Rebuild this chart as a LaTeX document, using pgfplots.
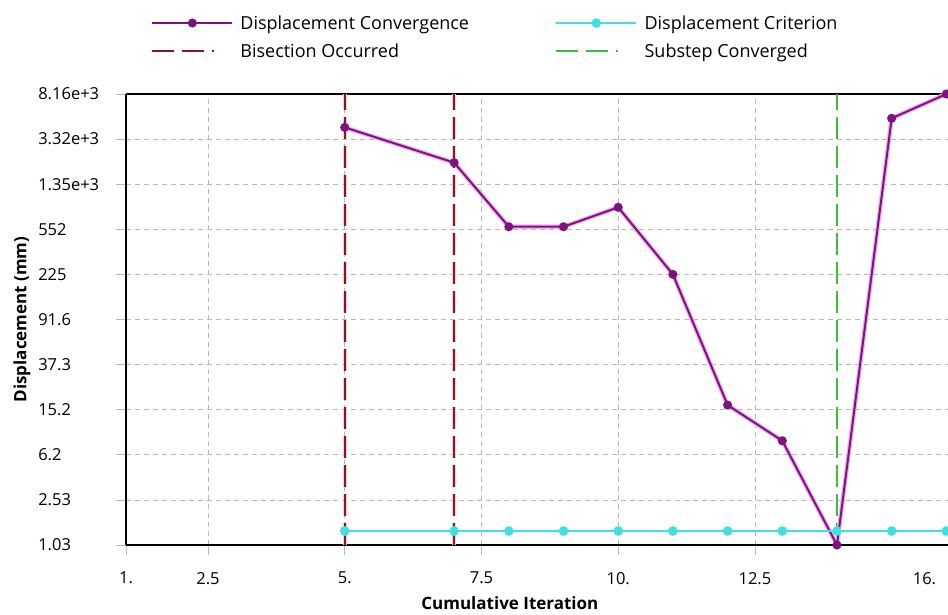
\documentclass[border=0pt]{standalone}
\usepackage{pgfplots}
\pgfplotsset{compat=1.18}
\usepackage{fontspec}
\setmainfont{Open Sans}
\definecolor{conv}{RGB}{125,20,125}
\definecolor{convhalo}{RGB}{240,175,240}
\definecolor{crit}{RGB}{64,224,224}
\definecolor{bisred}{RGB}{130,25,35}
\definecolor{bishalo}{RGB}{250,205,210}
\definecolor{subgreen}{RGB}{60,190,60}
\begin{document}
\begin{tikzpicture}
\begin{axis}[
  name=ax,
  scale only axis, width=822pt, height=451pt,
  ymode=log, xmin=1, xmax=16.03, ymin=1.03, ymax=8160,
  axis x line*=box, axis y line*=left,
  xtick pos=bottom, ytick pos=left,
  axis line style={black, line width=1.2pt},
  xtick={1,2.5,5,7.5,10,12.5}, xticklabels={1.,2.5,5.,7.5,10.,12.5},
  extra x ticks={15.6}, extra x tick labels={16.},
  extra x tick style={grid=none, major tick length=0pt, xticklabel style={yshift=-10pt}},
  ytick={1.03,2.528,6.203,15.22,37.35,91.67,225.0,552.1,1355,3325,8160},
  yticklabels={1.03,2.53,6.2,15.2,37.3,91.6,225,552,1.35e+3,3.32e+3,8.16e+3},
  minor tick num=0, log basis y=10,
  grid=major,
  grid style={gray!55, dash pattern=on 5pt off 4pt, line width=0.7pt},
  tick align=outside, major tick length=10pt,
  major tick style={gray!55, line width=0.7pt},
  /pgf/number format/assume math mode=true,
  tick label style={font=\fontsize{16.5}{18}\selectfont},
  yticklabel style={text width=72pt, align=left, anchor=east, inner sep=0pt},
  yticklabel shift=5.5pt,
  xticklabel style={inner sep=0pt},
  xticklabel shift=17pt,
  xlabel={Cumulative Iteration},
  ylabel={Displacement (mm)},
  every axis x label/.style={at={(rel axis cs:0.467,0)}, anchor=center, yshift=-58pt, font=\bfseries\fontsize{17}{19}\selectfont},
  every axis y label/.style={at={(rel axis cs:0,0.5)}, rotate=90, anchor=center, yshift=104pt, font=\bfseries\fontsize{17}{19}\selectfont},
  legend columns=2,
  legend cell align=left,
  legend style={draw=none, fill=none, at={(rel axis cs:0.027,1)}, anchor=south west, yshift=31pt,
    font=\fontsize{18}{20}\selectfont, row sep=9pt,
    /tikz/every odd column/.append style={column sep=5pt},
    /tikz/every even column/.append style={column sep=84pt}},
  legend image code/.code={\draw[mark repeat=2,mark phase=2,#1] plot coordinates {(0pt,0pt) (40pt,0pt) (80pt,0pt)};},
]
% vertical event lines
\addplot[bishalo, line width=3.5pt, dash pattern=on 22pt off 7pt, forget plot] coordinates {(5,1.03) (5,8160)};
\addplot[bishalo, line width=3.5pt, dash pattern=on 22pt off 7pt, forget plot] coordinates {(7,1.03) (7,8160)};
\addplot[bisred, line width=1.5pt, dash pattern=on 22pt off 7pt, forget plot] coordinates {(5,1.03) (5,8160)};
\addplot[bisred, line width=1.5pt, dash pattern=on 22pt off 7pt, forget plot] coordinates {(7,1.03) (7,8160)};
\addplot[subgreen, line width=1.2pt, dash pattern=on 22pt off 7pt, forget plot] coordinates {(14,1.03) (14,8160)};
% halo
\addplot[convhalo, line width=4.5pt, forget plot] coordinates {
(5,4200) (7,2080) (8,581) (9,581) (10,855) (11,225) (12,16.7) (13,8.2) (14,1.03) (15,5030) (16,8160)};
\addplot[conv, line width=2pt, mark=*, mark size=3.5pt, mark options={solid, fill=conv}] coordinates {
(5,4200) (7,2080) (8,581) (9,581) (10,855) (11,225) (12,16.7) (13,8.2) (14,1.03) (15,5030) (16,8160)};
\addlegendentry{Displacement Convergence}
\addplot[crit, line width=2.5pt, mark=*, mark size=3.5pt, mark options={solid, fill=crit}] coordinates {
(5,1.36) (7,1.36) (8,1.36) (9,1.36) (10,1.36) (11,1.36) (12,1.36) (13,1.36) (14,1.36) (15,1.36) (16,1.36)};
\addlegendentry{Displacement Criterion}
\addlegendimage{legend image code/.code={\draw[bisred, line width=1.5pt, dash pattern=on 22pt off 8pt on 22pt off 8pt on 2pt off 20pt] (0pt,0pt) -- (80pt,0pt);}}
\addlegendentry{Bisection Occurred}
\addlegendimage{legend image code/.code={\draw[subgreen, line width=1.6pt, dash pattern=on 22pt off 8pt on 22pt off 8pt on 2pt off 20pt] (0pt,0pt) -- (80pt,0pt);}}
\addlegendentry{Substep Converged}
\end{axis}
\pgfresetboundingbox
\path[use as bounding box] (ax.south west) ++(-126pt,-70pt) rectangle ++(948pt,615pt);
\end{tikzpicture}
\end{document}
